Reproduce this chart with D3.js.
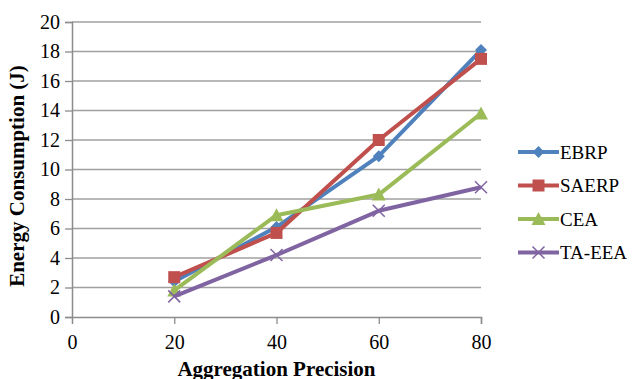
<!DOCTYPE html>
<html>
<head>
<meta charset="utf-8">
<script src="https://cdn.jsdelivr.net/npm/d3@7"></script>
<style>
  body { margin: 0; background: #fff; }
  svg text { font-family: "Liberation Serif", "Times New Roman", Times, serif; }
</style>
</head>
<body>
<div id="chart"></div>
<script>
// Chart data
var precision = [20, 40, 60, 80];
var ebrp = [2.4, 6.1, 10.9, 18.1];
var saerp = [2.7, 5.7, 12.0, 17.5];
var cea = [1.8, 6.9, 8.3, 13.8];
var taeea = [1.4, 4.2, 7.2, 8.8];
var xTicks = [0, 20, 40, 60, 80];
var yTicks = [0, 2, 4, 6, 8, 10, 12, 14, 16, 18, 20];

var series = [
  { name: "EBRP", values: ebrp, color: "#4F81BD", marker: "diamond" },
  { name: "SAERP", values: saerp, color: "#C0504D", marker: "square" },
  { name: "CEA", values: cea, color: "#9BBB59", marker: "triangle" },
  { name: "TA-EEA", values: taeea, color: "#8064A2", marker: "x" }
];

var serif = "'Liberation Serif', 'Times New Roman', serif";

var svgWidth = 635;
var svgHeight = 379;
var margin = { top: 22, left: 72 };
var width = 409;
var height = 295;

var svg = d3.select("#chart")
  .append("svg")
  .attr("width", svgWidth)
  .attr("height", svgHeight)
  .attr("font-family", serif);

var chartGroup = svg.append("g")
  .attr("transform", `translate(${margin.left}, ${margin.top})`);

var x = d3.scaleLinear().domain([0, 80]).range([0, width]);
var y = d3.scaleLinear().domain([0, 20]).range([height, 0]);

// gridlines
chartGroup.selectAll(".grid")
  .data(yTicks.slice(1))
  .enter()
  .append("line")
  .attr("x1", 0)
  .attr("x2", width)
  .attr("y1", d => y(d))
  .attr("y2", d => y(d))
  .attr("stroke", "#a0a0a0")
  .attr("stroke-width", 1.3);

// axes
var leftAxis = d3.axisLeft(y).tickValues(yTicks).tickSize(7).tickPadding(5);
var bottomAxis = d3.axisBottom(x).tickValues(xTicks).tickSize(7).tickPadding(11);

var yAxisG = chartGroup.append("g").call(leftAxis);
var xAxisG = chartGroup.append("g")
  .attr("transform", `translate(0, ${height})`)
  .call(bottomAxis);

[yAxisG, xAxisG].forEach(function(g) {
  g.attr("font-family", serif).attr("font-size", 20);
  g.select(".domain").attr("stroke", "#8c8c8c").attr("stroke-width", 1.5);
  g.selectAll(".tick line").attr("stroke", "#8c8c8c").attr("stroke-width", 1.3);
  g.selectAll(".tick text").attr("fill", "#000");
});
xAxisG.selectAll(".tick").filter(d => d === 0).select("line").remove();

// axis titles
chartGroup.append("text")
  .attr("x", width / 2)
  .attr("y", height + 59)
  .attr("text-anchor", "middle")
  .attr("font-size", 21)
  .attr("font-weight", "bold")
  .text("Aggregation Precision");

chartGroup.append("text")
  .attr("transform", "rotate(-90)")
  .attr("x", -(176 - margin.top))
  .attr("y", -(margin.left - 24))
  .attr("text-anchor", "middle")
  .attr("font-size", 21)
  .attr("font-weight", "bold")
  .text("Energy Consumption (J)");

// marker drawing
function drawMarker(g, type, color) {
  if (type === "diamond") {
    g.append("path").attr("d", "M0,-6L6,0L0,6L-6,0Z").attr("fill", color);
  } else if (type === "square") {
    g.append("rect").attr("x", -6).attr("y", -6).attr("width", 12).attr("height", 12).attr("fill", color);
  } else if (type === "triangle") {
    g.append("path").attr("d", "M0,-7L7,6L-7,6Z").attr("fill", color);
  } else {
    g.append("path").attr("d", "M-6,-6L6,6M-6,6L6,-6")
      .attr("stroke", color).attr("stroke-width", 1.5).attr("fill", "none");
  }
}

var line = d3.line()
  .x((d, i) => x(precision[i]))
  .y(d => y(d));

series.forEach(function(s) {
  chartGroup.append("path")
    .datum(s.values)
    .attr("d", line)
    .attr("fill", "none")
    .attr("stroke", s.color)
    .attr("stroke-width", 4)
    .attr("stroke-linejoin", "round");

  s.values.forEach(function(v, i) {
    var m = chartGroup.append("g")
      .attr("transform", `translate(${x(precision[i])}, ${y(v)})`);
    drawMarker(m, s.marker, s.color);
  });
});

// legend
var legend = svg.append("g").attr("transform", "translate(518, 152)");
series.forEach(function(s, i) {
  var item = legend.append("g").attr("transform", `translate(0, ${i * 33.5})`);
  item.append("line")
    .attr("x1", 0).attr("x2", 41)
    .attr("y1", 0).attr("y2", 0)
    .attr("stroke", s.color)
    .attr("stroke-width", 4);
  var m = item.append("g").attr("transform", "translate(20.5, 0)");
  drawMarker(m, s.marker, s.color);
  item.append("text")
    .attr("x", 42)
    .attr("y", 6.5)
    .attr("font-size", 19)
    .text(s.name);
});
</script>
</body>
</html>
